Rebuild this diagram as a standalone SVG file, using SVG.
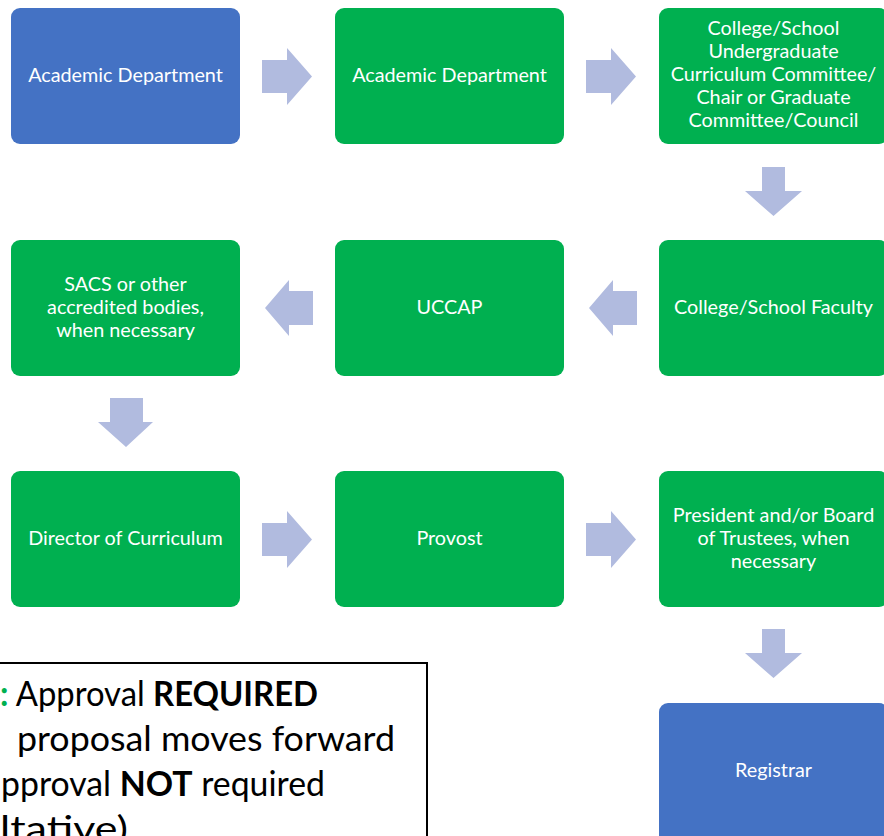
<svg xmlns="http://www.w3.org/2000/svg" width="884" height="836" viewBox="0 0 884 836">
<style>
.g{fill:#00b050}
.b{fill:#4472c4}
.t{font-family:Lato,"Open Sans","Liberation Sans",sans-serif;font-size:19.8px;fill:#fff;text-anchor:middle}
.a{fill:#b1bbdf}
.lg{font-family:Lato,"Open Sans","Liberation Sans",sans-serif;font-size:34px;fill:#000}
</style>
<rect width="884" height="836" fill="#fff"/>
<g id="n1"><rect class="b" x="11" y="8" width="229" height="136" rx="9"/><text class="t" x="125.5" y="82">Academic Department</text></g>
<g id="n2"><rect class="g" x="335" y="8" width="229" height="136" rx="9"/><text class="t" x="449.5" y="82">Academic Department</text></g>
<g id="n3"><rect class="g" x="659" y="8" width="229" height="136" rx="9"/><text class="t" x="773.5"><tspan x="773.5" y="35">College/School</tspan><tspan x="773.5" y="58">Undergraduate</tspan><tspan x="773.5" y="81">Curriculum Committee/</tspan><tspan x="773.5" y="104">Chair or Graduate</tspan><tspan x="773.5" y="127">Committee/Council</tspan></text></g>
<g id="n4"><rect class="g" x="659" y="240" width="229" height="136" rx="9"/><text class="t" x="773.5" y="314">College/School Faculty</text></g>
<g id="n5"><rect class="g" x="335" y="240" width="229" height="136" rx="9"/><text class="t" x="449.5" y="314">UCCAP</text></g>
<g id="n6"><rect class="g" x="11" y="240" width="229" height="136" rx="9"/><text class="t" x="125.5"><tspan x="125.5" y="291">SACS or other</tspan><tspan x="125.5" y="314">accredited bodies,</tspan><tspan x="125.5" y="337">when necessary</tspan></text></g>
<g id="n7"><rect class="g" x="11" y="471" width="229" height="136" rx="9"/><text class="t" x="125.5" y="545">Director of Curriculum</text></g>
<g id="n8"><rect class="g" x="335" y="471" width="229" height="136" rx="9"/><text class="t" x="449.5" y="545">Provost</text></g>
<g id="n9"><rect class="g" x="659" y="471" width="229" height="136" rx="9"/><text class="t" x="773.5"><tspan x="773.5" y="522">President and/or Board</tspan><tspan x="773.5" y="545">of Trustees, when</tspan><tspan x="773.5" y="568">necessary</tspan></text></g>
<g id="n10"><rect class="b" x="659" y="703" width="229" height="150" rx="9"/><text class="t" x="773.5" y="777">Registrar</text></g>
<g id="connectors">
<path class="a" d="M262 60H287V48L312 76.5L287 105V93H262Z"/>
<path class="a" d="M586 60H611V48L636 76.5L611 105V93H586Z"/>
<path class="a" d="M762 167H785V191H802L773.5 216L745 191H762Z"/>
<path class="a" d="M637 291H613V280L589 308L613 336V325H637Z"/>
<path class="a" d="M313 291H289V280L265 308L289 336V325H313Z"/>
<path class="a" d="M110 398H143V422H153L126 447L98 422H110Z"/>
<path class="a" d="M262 523H287V511L312 539.5L287 568V556H262Z"/>
<path class="a" d="M586 523H611V511L636 539.5L611 568V556H586Z"/>
<path class="a" d="M762 629H785V653H802L773.5 678L745 653H762Z"/>
</g>
<g id="legend">
<rect x="-20" y="663" width="447" height="200" fill="#fff" stroke="#000" stroke-width="2"/>
<text class="lg" x="0" y="706" textLength="318" lengthAdjust="spacingAndGlyphs"><tspan fill="#00b050" font-weight="bold">:</tspan> Approval <tspan font-weight="bold">REQUIRED</tspan></text>
<text class="lg" x="17" y="751" textLength="378" lengthAdjust="spacingAndGlyphs">proposal moves forward</text>
<text class="lg" x="1" y="796" textLength="324" lengthAdjust="spacingAndGlyphs">pproval <tspan font-weight="bold">NOT</tspan> required</text>
<text class="lg" x="0" y="841" textLength="128" lengthAdjust="spacingAndGlyphs">ltative)</text>
</g>
</svg>
